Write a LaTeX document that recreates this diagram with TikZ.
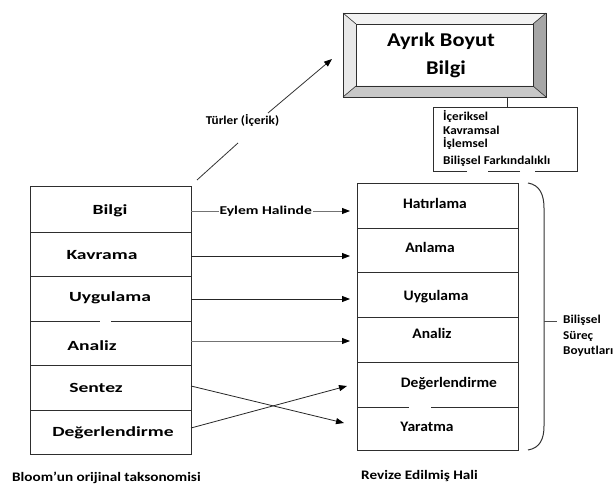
\documentclass[tikz,border=0pt]{standalone}
\usepackage{fontspec}
\setmainfont{Carlito}
\usetikzlibrary{arrows.meta}
\definecolor{bevelTop}{HTML}{F2F2F2}
\definecolor{bevelLeft}{HTML}{E8E8E8}
\definecolor{bevelBottom}{HTML}{C8C8C8}
\definecolor{bevelRight}{HTML}{A6A6A6}
\definecolor{edge}{HTML}{2E2E2E}
\begin{document}
\begin{tikzpicture}[x=1pt,y=-1pt,
  txt/.style={inner sep=0pt, anchor=base},
  rowlbl/.style={txt, font=\bfseries\addfontfeature{FakeStretch=1.4}\fontsize{14}{16}\selectfont},
  newlbl/.style={txt, font=\bfseries\addfontfeature{FakeStretch=1.07}\fontsize{14.5}{16}\selectfont},
  titlelbl/.style={txt, font=\bfseries\addfontfeature{FakeStretch=1.15}\fontsize{19.5}{22}\selectfont},
  smalllbl/.style={txt, anchor=base west, font=\bfseries\addfontfeature{FakeStretch=1.1}\fontsize{12}{14}\selectfont},
  caplbl/.style={txt, anchor=base west, font=\bfseries\addfontfeature{FakeStretch=1.17}\fontsize{13}{15}\selectfont},
  arrlbl/.style={inner sep=1pt, fill=white, font=\bfseries\addfontfeature{FakeStretch=1.3}\fontsize{12}{14}\selectfont},
  boxline/.style={draw=edge, line width=0.9pt},
  conn/.style={draw=black!85, line width=0.8pt, -{Triangle[length=8pt,width=6pt,black]}},
  softconn/.style={conn, draw=black!55},
]
\useasboundingbox (0,0) rectangle (614,486);

% ---- raised title box ----
\fill[bevelTop]    (343,13) -- (546,13) -- (533,24) -- (356,24) -- cycle;
\fill[bevelLeft]   (343,13) -- (356,24) -- (356,86) -- (343,97) -- cycle;
\fill[bevelBottom] (343,97) -- (356,86) -- (533,86) -- (546,97) -- cycle;
\fill[bevelRight]  (546,13) -- (533,24) -- (533,86) -- (546,97) -- cycle;
\draw[boxline] (343,13) rectangle (546,97);
\draw[boxline] (356,24) rectangle (533,86);
\draw[edge, line width=0.6pt] (343,13) -- (356,24) (546,13) -- (533,24)
  (343,97) -- (356,86) (546,97) -- (533,86);
\node[titlelbl] (title1) at (441,47) {Ayrık Boyut};
\node[titlelbl] (title2) at (446,75) {Bilgi};

% ---- knowledge types box ----
\coordinate (tb) at (507,97);
\coordinate (kt) at (507,107);
\draw[boxline] (tb) -- (kt);
\draw[boxline] (467,171) -- (433,171) -- (433,107) -- (577,107) -- (577,171) -- (535,171)
  (520,171) -- (488,171);
\node[smalllbl] (k1) at (443,121) {İçeriksel};
\node[smalllbl] (k2) at (443,134.5) {Kavramsal};
\node[smalllbl] (k3) at (443,148) {İşlemsel};
\node[smalllbl] (k4) at (443,165) {Bilişsel Farkındalıklı};

% ---- original taxonomy column ----
\draw[boxline] (30,186) rectangle (191,454);
\draw[boxline] (30,232) -- (191,232) (30,276) -- (191,276)
  (30,321) -- (100,321) (111,321) -- (191,321)
  (30,365) -- (191,365) (30,410) -- (191,410);
\node[rowlbl] (o1) at (110,215) {Bilgi};
\node[rowlbl] (o2) at (102,260) {Kavrama};
\node[rowlbl] (o3) at (110,301.5) {Uygulama};
\node[rowlbl] (o4) at (92,351) {Analiz};
\node[rowlbl] (o5) at (96,393) {Sentez};
\node[rowlbl] (o6) at (113,437) {Değerlendirme};
\node[caplbl] (cap1) at (12,481.5) {Bloom'un orijinal taksonomisi};

% ---- revised taxonomy column ----
\draw[boxline] (357,183) rectangle (518,450);
\draw[boxline] (357,228) -- (518,228) (357,272) -- (518,272)
  (357,317) -- (518,317) (357,362) -- (518,362)
  (357,407) -- (409,407) (431,407) -- (518,407);
\node[newlbl] (r1) at (435,209) {Hatırlama};
\node[newlbl] (r2) at (430,253) {Anlama};
\node[newlbl] (r3) at (436,301) {Uygulama};
\node[newlbl] (r4) at (432,339) {Analiz};
\node[newlbl] (r5) at (449,388) {Değerlendirme};
\node[newlbl] (r6) at (427,432) {Yaratma};
\node[caplbl] (cap2) at (361,480) {Revize Edilmiş Hali};

% ---- brace for the cognitive process dimension ----
\draw[draw=black!80, line width=1pt]
  (528,183) .. controls (540,185) and (544,195) .. (544,208) -- (544,426)
  .. controls (544,439) and (540,448) .. (528,450);
\coordinate (bm) at (544,322);
\coordinate (bt) at (557,322);
\draw[draw=black!70, line width=1pt] (bm) -- (bt);
\node[smalllbl] (d1) at (563,324) {Bilişsel};
\node[smalllbl] (d2) at (563,339.5) {Süreç};
\node[smalllbl] (d3) at (563,355) {Boyutları};

% ---- mapping arrows ----
\coordinate (a1) at (191,211); \coordinate (b1) at (350,211);
\coordinate (a2) at (191,256); \coordinate (b2) at (350,256);
\coordinate (a3) at (191,299); \coordinate (b3) at (350,299);
\coordinate (a4) at (191,341); \coordinate (b4) at (350,341);
\coordinate (a5) at (191,386); \coordinate (b5) at (344,423);
\coordinate (a6) at (191,428); \coordinate (b6) at (347,386);
\draw[softconn] (a1) -- (b1) node[arrlbl, pos=0.47] (act) {Eylem Halinde};
\draw[conn] (a2) -- (b2);
\draw[conn] (a3) -- (b3);
\draw[softconn] (a4) -- (b4);
\draw[conn] (a5) -- (b5);
\draw[conn] (a6) -- (b6);

% ---- arrow towards the knowledge dimension ----
\coordinate (t0) at (197,180);
\coordinate (t1) at (238,143);
\coordinate (t2) at (268,113);
\coordinate (t3) at (332,59);
\draw[draw=black!80, line width=0.8pt] (t0) -- (t1);
\draw[conn, draw=black!80] (t2) -- (t3);
\node[txt, font=\bfseries\addfontfeature{FakeStretch=1.1}\fontsize{12}{14}\selectfont] (types) at (242.5,125) {Türler (İçerik)};
\end{tikzpicture}
\end{document}
